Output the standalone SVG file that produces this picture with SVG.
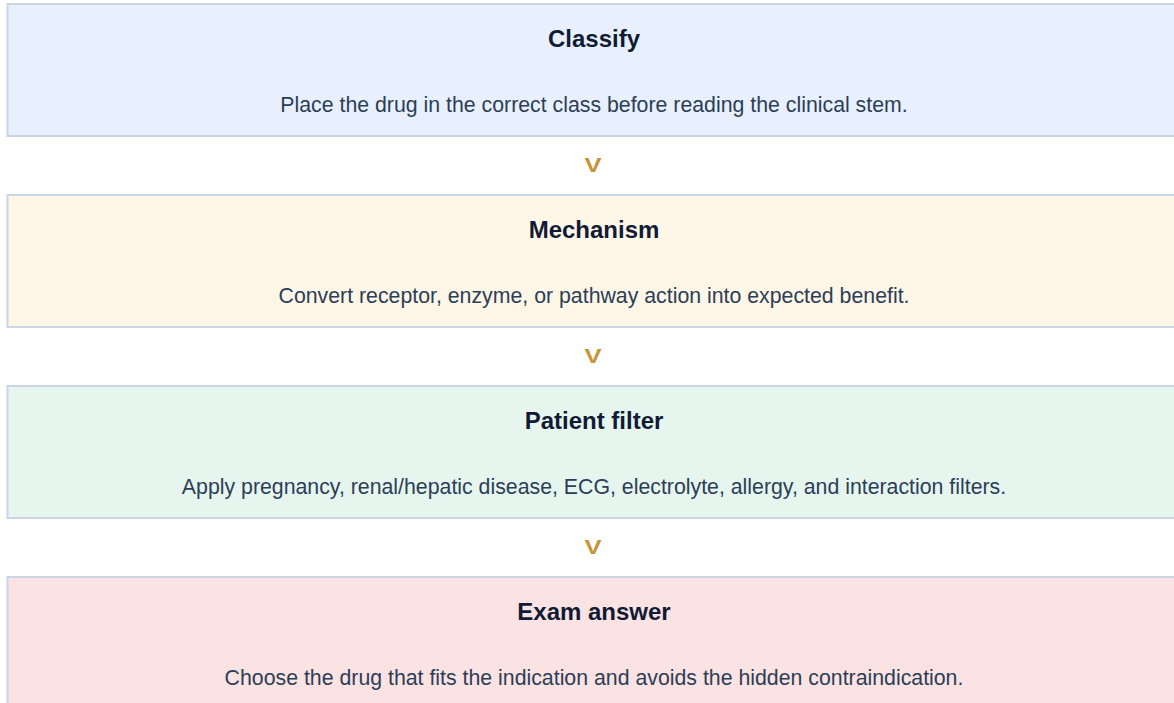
<svg xmlns="http://www.w3.org/2000/svg" width="1174" height="703" viewBox="0 0 1174 703">
<style>
.box{stroke:#cad6e5;stroke-width:2}
.t{font-family:"Liberation Sans",Arial,sans-serif;font-weight:bold;font-size:24px;fill:#111b34;text-anchor:middle}
.b{font-family:"Liberation Sans",Arial,sans-serif;font-size:21.3px;fill:#2c3e56;text-anchor:middle}
.arr{font-family:"Liberation Sans",Arial,sans-serif;font-weight:bold;font-size:20px;fill:#c6953a;text-anchor:middle}
</style>
<rect width="1174" height="703" fill="#ffffff"/>
<g id="classify">
<rect class="box" x="7.5" y="4" width="1180" height="132" fill="#e8f0fe"/>
<text class="t" x="594" y="46.5">Classify</text>
<text class="b" x="594" y="112">Place the drug in the correct class before reading the clinical stem.</text>
</g>
<g id="mechanism">
<rect class="box" x="7.5" y="195" width="1180" height="132" fill="#fef6e7"/>
<text class="t" x="594" y="237.5">Mechanism</text>
<text class="b" x="594" y="303">Convert receptor, enzyme, or pathway action into expected benefit.</text>
</g>
<g id="patient-filter">
<rect class="box" x="7.5" y="386" width="1180" height="132" fill="#e6f6ef"/>
<text class="t" x="594" y="428.5">Patient filter</text>
<text class="b" x="594" y="494">Apply pregnancy, renal/hepatic disease, ECG, electrolyte, allergy, and interaction filters.</text>
</g>
<g id="exam-answer">
<rect class="box" x="7.5" y="577" width="1180" height="132" fill="#fbe3e3"/>
<text class="t" x="594" y="619.5">Exam answer</text>
<text class="b" x="594" y="685">Choose the drug that fits the indication and avoids the hidden contraindication.</text>
</g>
<g id="connectors">
<text class="arr" transform="translate(593 171.5) scale(1.28 1)">V</text>
<text class="arr" transform="translate(593 362.5) scale(1.28 1)">V</text>
<text class="arr" transform="translate(593 553.5) scale(1.28 1)">V</text>
</g>
</svg>
